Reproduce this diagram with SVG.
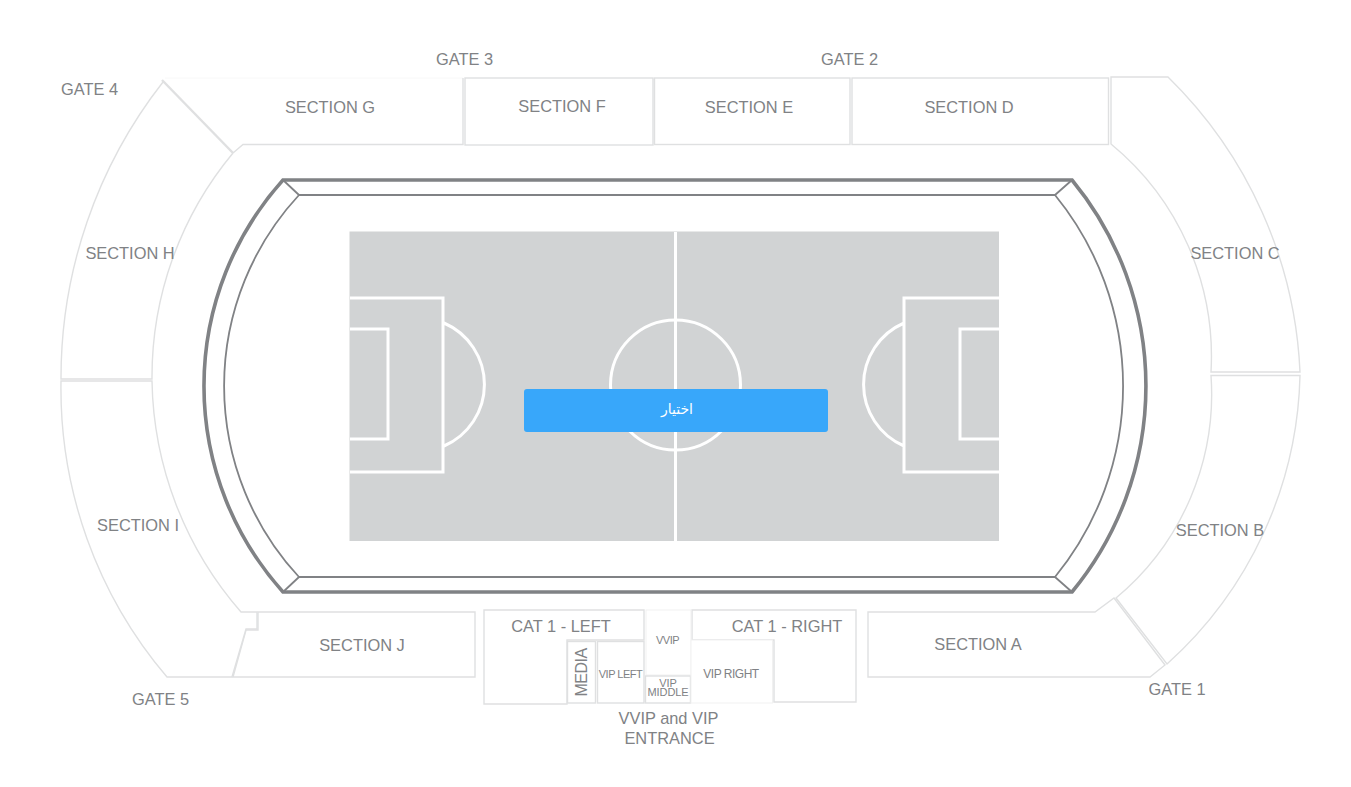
<svg xmlns="http://www.w3.org/2000/svg" width="1351" height="787" viewBox="0 0 1351 787">
<style>
.s{fill:#fff;stroke:#dfe0e1;stroke-width:1.4;stroke-linejoin:miter}
.b{fill:none;stroke:#dfe0e1;stroke-width:2.4}
.f{fill:none;stroke:#f8f8f8;stroke-width:1}
.t{font-family:"Liberation Sans",Arial,sans-serif;font-size:16.4px;fill:#808285;text-anchor:middle}
.m{font-size:11px;letter-spacing:-.5px}
.n{font-size:11px;letter-spacing:-.1px}
.w{fill:none;stroke:#fff;stroke-width:3}
.d1{fill:none;stroke:#808285;stroke-width:3.6;stroke-linejoin:miter}
.d2{fill:none;stroke:#808285;stroke-width:1.8}
</style>
<rect width="1351" height="787" fill="#fff"/>
<g id="pitch">
<rect x="349.500" y="231.500" width="649.500" height="309.500" fill="#d1d3d4"/>
<path class="w" d="M675.500 232V541"/>
<circle class="w" cx="675.500" cy="385" r="65"/>
<path class="w" d="M350 298H443V472H350M350 329H388V439H350M444 323A67 67 0 0 1 444 446"/>
<path class="w" d="M999 298H904V472H999M999 329H960V439H999M904 323A67 67 0 0 0 904 446"/>
</g>
<g id="stand-rim">
<path class="d1" d="M283 180H1072A324 324 0 0 1 1072 592H283A308 308 0 0 1 283 180Z"/>
<path class="d2" d="M299 195H1055A302 302 0 0 1 1055 577H299A281 281 0 0 1 299 195Z"/>
</g>
<g id="connectors">
<path class="d2" d="M283 180L299 195M1072 180L1055 195M283 592L299 577M1072 592L1055 577"/>
</g>
<g id="section-h"><path class="s" d="M163 82A480 480 0 0 0 61 379H152A350 350 0 0 1 233 153"/><text class="t" x="130" y="259">SECTION H</text></g>
<g id="section-g"><path class="f" d="M165 78H463"/><path class="s" d="M463 78V144.500H243L233 153" style="fill:none"/><path class="b" d="M162 80L233 153"/><text class="t" x="330" y="113">SECTION G</text></g>
<g id="section-f"><rect class="s" x="465" y="78" width="188" height="67"/><text class="t" x="562" y="112">SECTION F</text></g>
<g id="section-e"><rect class="s" x="654.500" y="78" width="195.500" height="66.500"/><text class="t" x="749" y="113">SECTION E</text></g>
<g id="section-d"><rect class="s" x="852" y="78" width="256.500" height="66.500"/><text class="t" x="969" y="113">SECTION D</text></g>
<g id="section-c"><path class="s" d="M1111 77H1168A440 440 0 0 1 1300 372H1211A275 275 0 0 0 1111 144Z"/><text class="t" x="1235" y="259">SECTION C</text></g>
<g id="section-b"><path class="s" d="M1211 375.500H1300A400 400 0 0 1 1167 664L1116 598A265 265 0 0 0 1211 375.500Z"/><text class="t" x="1220" y="536">SECTION B</text></g>
<g id="section-a"><path class="s" d="M868 612H1095L1114 598L1165 665L1150 677H868Z"/><text class="t" x="978" y="650">SECTION A</text></g>
<g id="section-j"><path class="s" d="M258 612H475V677H233L246 630L258 630Z"/><text class="t" x="362" y="651">SECTION J</text></g>
<g id="section-i"><path class="s" d="M61 381H152A360 360 0 0 0 241 612H257V629H246L232 677H167A445 445 0 0 1 61 381Z"/><text class="t" x="138" y="531">SECTION I</text></g>
<g id="cat1-left"><path class="s" d="M484 610H644V640H567V704H484Z"/><text class="t" x="561" y="632">CAT 1 - LEFT</text></g>
<g id="cat1-right"><path class="s" d="M692 610H856V702H774V640H692Z"/><text class="t" x="787" y="632">CAT 1 - RIGHT</text></g>
<g id="media"><rect class="s" x="567.500" y="641.500" width="28" height="61.500"/><text class="t" style="font-size:16px;letter-spacing:-.5px" transform="translate(586.500 672.500) rotate(-90)">MEDIA</text></g>
<g id="vip-left"><rect class="s" x="597.500" y="641.500" width="46.500" height="61.500"/><text class="t m" x="620.500" y="678">VIP LEFT</text></g>
<g id="vvip"><rect x="646" y="610" width="45" height="65" fill="#fff" stroke="#f1f1f1"/><text class="t m" x="667.500" y="644">VVIP</text></g>
<g id="vip-middle"><rect class="s" x="645.500" y="676" width="45" height="27"/><text class="t n" x="668" y="686.500">VIP</text><text class="t n" x="668" y="696">MIDDLE</text></g>
<g id="vip-right"><rect x="691" y="640" width="81.500" height="63" fill="#fff" stroke="#f1f1f1"/><text class="t" style="font-size:12px;letter-spacing:-.5px" x="731" y="678">VIP RIGHT</text></g>
<g id="labels">
<text class="t" x="464.500" y="65">GATE 3</text>
<text class="t" x="849.500" y="65">GATE 2</text>
<text class="t" x="89.500" y="95">GATE 4</text>
<text class="t" x="160.500" y="705">GATE 5</text>
<text class="t" x="1177" y="695">GATE 1</text>
<text class="t" x="668.500" y="724">VVIP and VIP</text>
<text class="t" x="669.500" y="744">ENTRANCE</text>
</g>
<g id="button"><rect x="524" y="389" width="304" height="43" rx="3" fill="#38a7fa"/><text x="677" y="414" font-family="'Liberation Sans','DejaVu Sans',sans-serif" font-size="14" fill="#fff" text-anchor="middle">اختيار</text></g>
</svg>
